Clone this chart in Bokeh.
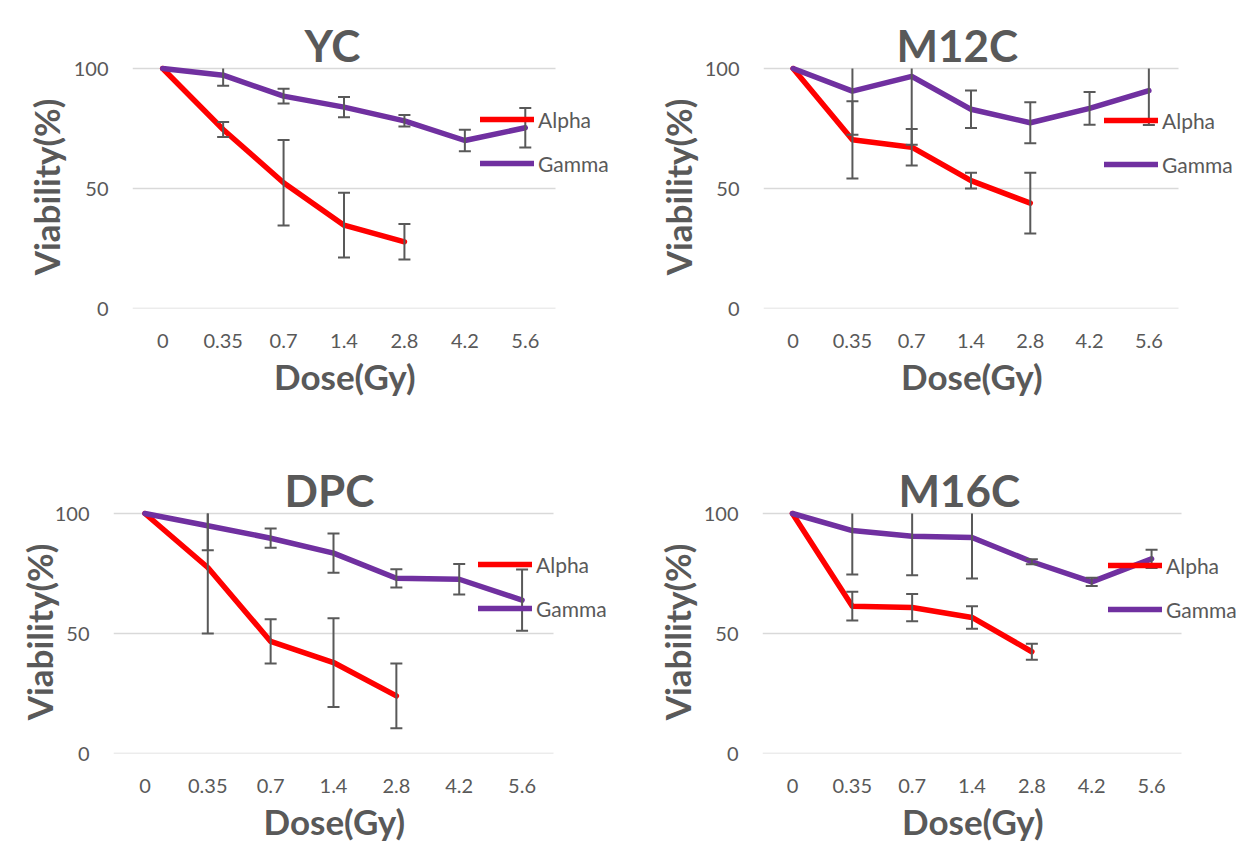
from bokeh.plotting import figure
from bokeh.layouts import row, column
from bokeh.models import Range1d, FixedTicker, Legend, LegendItem, Title
from bokeh.embed import file_html
from bokeh.resources import INLINE

# ---------------- data ----------------
doses = ["0", "0.35", "0.7", "1.4", "2.8", "4.2", "5.6"]

yc_alpha = [100, 74.6, 52.4, 34.7, 27.8]
yc_alpha_err = [0, 3.1, 17.8, 13.5, 7.4]
yc_gamma = [100, 97.2, 88.5, 83.9, 78.2, 70.0, 75.3]
yc_gamma_err = [0, 4.4, 3.1, 4.2, 2.4, 4.5, 8.2]

m12c_alpha = [100, 70.3, 67.2, 53.3, 43.9]
m12c_alpha_err = [0, 16.1, 7.6, 3.3, 12.7]
m12c_gamma = [100, 90.6, 96.7, 83.0, 77.4, 83.4, 90.8]
m12c_gamma_err = [0, 18.2, 28.5, 7.8, 8.5, 6.8, 14.3]

dpc_alpha = [100, 77.5, 46.7, 37.9, 24.0]
dpc_alpha_err = [0, 27.5, 9.2, 18.5, 13.5]
dpc_gamma = [100, 94.9, 89.7, 83.5, 73.0, 72.6, 63.9]
dpc_gamma_err = [0, 10.2, 4.0, 8.2, 3.8, 6.4, 12.8]

m16c_alpha = [100, 61.4, 60.8, 56.7, 42.4]
m16c_alpha_err = [0, 6.0, 5.7, 4.7, 3.3]
m16c_gamma = [100, 92.9, 90.5, 90.0, 79.9, 71.5, 81.1]
m16c_gamma_err = [0, 18.3, 16.2, 17.1, 1.0, 1.7, 3.8]

titles = ["YC", "M12C", "DPC", "M16C"]
series_names = ["Alpha", "Gamma"]
x_title = "Dose(Gy)"
y_title = "Viability(%)"
y_ticks = [0, 50, 100]

# ---------------- style ----------------
FONT = "Lato"
TXT = "#595959"
RED = "#FF0000"
PURPLE = "#7030A0"
ERR = "#595959"
GRID = "#D9D9D9"
YMAX = 101.25
FH = 243
EXT = 66          # extra frame room on the right for the legend
XTITLE_W = 140    # approximate rendered width of the x-axis title


def make_panel(title, alpha, alpha_err, gamma, gamma_err, geom):
    (left, fw0, right, top, bottom, leg_x, leg_y,
     title_left, ylab_standoff) = geom
    n = len(doses)
    fw = fw0 + EXT
    x_end = (n - 0.5) + EXT * n / fw0
    p = figure(frame_width=fw, frame_height=FH,
               min_border_left=left, min_border_right=right,
               min_border_top=top, min_border_bottom=bottom,
               x_range=Range1d(-0.5, x_end), y_range=Range1d(0, YMAX),
               output_backend="svg", toolbar_location=None,
               outline_line_color=None, background_fill_color="white",
               border_fill_color="white")

    # chart title
    p.title.text = title
    p.title.align = "left"
    p.title.offset = title_left
    p.title.standoff = -11
    p.title.text_font = FONT
    p.title.text_font_size = "44px"
    p.title.text_font_style = "bold"
    p.title.text_color = TXT

    # axes
    p.xaxis.ticker = FixedTicker(ticks=list(range(n)))
    p.xaxis.major_label_overrides = {i: d for i, d in enumerate(doses)}
    p.yaxis.ticker = FixedTicker(ticks=y_ticks)
    for ax in (p.xaxis[0], p.yaxis[0]):
        ax.axis_line_color = None
        ax.major_tick_line_color = None
        ax.minor_tick_line_color = None
        ax.major_label_text_font = FONT
        ax.major_label_text_font_size = "20px"
        ax.major_label_text_color = TXT
    p.xaxis.major_label_standoff = 19
    p.yaxis.major_label_standoff = 18

    p.add_layout(Title(text=x_title, align="left", offset=(fw0 - XTITLE_W) / 2,
                       standoff=5, text_font=FONT, text_font_size="35px",
                       text_font_style="bold", text_color=TXT), "below")
    p.add_layout(Title(text=y_title, align="center", standoff=ylab_standoff,
                       text_font=FONT, text_font_size="35px", text_font_style="bold",
                       text_color=TXT), "left")

    # gridlines only across the category area
    p.xgrid.grid_line_color = None
    p.ygrid.grid_line_color = None
    p.segment(x0=[-0.5] * len(y_ticks), y0=y_ticks, x1=[n - 0.5] * len(y_ticks),
              y1=y_ticks, line_color=GRID, line_width=1.3)

    xa = list(range(len(alpha)))
    xg = list(range(len(gamma)))
    ra = p.line(xa, alpha, line_color=RED, line_width=5.5,
                line_join="round", line_cap="round")
    rg = p.line(xg, gamma, line_color=PURPLE, line_width=5.5,
                line_join="round", line_cap="round")

    # error bars (clipped at the 100 % plot edge like the original)
    for vals, errs in ((alpha, alpha_err), (gamma, gamma_err)):
        xs, lo, hi, xu, hu = [], [], [], [], []
        for i, (v, e) in enumerate(zip(vals, errs)):
            if e <= 0:
                continue
            xs.append(i)
            lo.append(v - e)
            hi.append(min(v + e, 100))
            if v + e <= 100:
                xu.append(i)
                hu.append(v + e)
        p.segment(x0=xs, y0=lo, x1=xs, y1=hi, line_color=ERR, line_width=2)
        p.scatter(xs, lo, marker="dash", size=12, line_color=ERR, line_width=2)
        if xu:
            p.scatter(xu, hu, marker="dash", size=12, line_color=ERR, line_width=2)

    legend = Legend(items=[LegendItem(label=series_names[0], renderers=[ra]),
                           LegendItem(label=series_names[1], renderers=[rg])],
                    location=(leg_x, leg_y), orientation="vertical",
                    label_text_font=FONT, label_text_font_size="21px",
                    label_text_color=TXT, glyph_width=54, glyph_height=26,
                    label_height=26, spacing=18, padding=0, margin=0,
                    label_standoff=4, border_line_alpha=0,
                    background_fill_alpha=0)
    p.add_layout(legend)
    return p


# geometry: left, frame_w, right, top, bottom, legend_x, legend_y,
#           title left offset, y-title standoff
p1 = make_panel(titles[0], yc_alpha, yc_alpha_err, yc_gamma, yc_gamma_err,
                (132, 423, 1, 64, 118, 348, 132, 172, 7))
p2 = make_panel(titles[1], m12c_alpha, m12c_alpha_err, m12c_gamma, m12c_gamma_err,
                (141, 415, 4, 65, 117, 341, 131, 133, 6))
p3 = make_panel(titles[2], dpc_alpha, dpc_alpha_err, dpc_gamma, dpc_gamma_err,
                (113, 440, 3, 85, 90, 365, 132, 171, -17))
p4 = make_panel(titles[3], m16c_alpha, m16c_alpha_err, m16c_gamma, m16c_gamma_err,
                (140, 419, 1, 85, 90, 346, 131, 136, 5))

layout = column(row(p1, p2), row(p3, p4))
open("out.html", "w").write(file_html(layout, INLINE))
